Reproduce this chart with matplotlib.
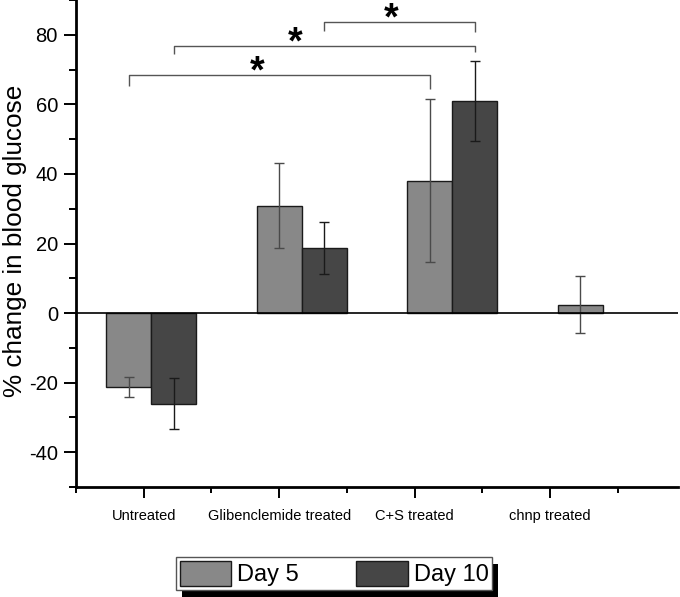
import matplotlib
matplotlib.use("Agg")
import matplotlib.pyplot as plt
from matplotlib.patches import Rectangle
import numpy as np

plt.rcParams["font.family"] = ["Liberation Sans", "DejaVu Sans"]
plt.rcParams["axes.unicode_minus"] = False

# data
groups = ["Untreated", "Glibenclemide treated", "C+S treated", "chnp treated"]
day5 = [-21.2, 30.8, 38.0, 2.4]
day5_err = [2.9, 12.2, 23.4, 8.2]
day10 = [-26.0, 18.8, 61.0, np.nan]
day10_err = [7.2, 7.5, 11.4, np.nan]

# significance brackets: (x left, x right, y top, left leg end, right leg end)
brackets = [
    (0.85, 2.85, 68.4, 65.4, 64.4),
    (1.15, 3.15, 76.8, 74.5, 75.0),
    (2.15, 3.15, 83.6, 81.2, 80.8),
]
star_x = [1.706, 1.955, 2.594]

pos = np.arange(1, len(groups) + 1)
w = 0.3
c5 = "#888888"
c10 = "#464646"

fig = plt.figure(figsize=(6.8, 5.97), dpi=100)
ax = fig.add_axes([76 / 680, 110 / 597, 602 / 680, 487 / 597])

ax.bar(pos - w / 2, day5, w, color=c5, edgecolor="#1a1a1a", linewidth=1.0, zorder=2)
ax.bar(pos + w / 2, day10, w, color=c10, edgecolor="#1a1a1a", linewidth=1.0, zorder=2)
ax.errorbar(pos - w / 2, day5, yerr=day5_err, fmt="none", ecolor="#4a4a4a",
            elinewidth=1.0, capsize=3.3, capthick=1.0, zorder=3)
ax.errorbar(pos + w / 2, day10, yerr=day10_err, fmt="none", ecolor="#1a1a1a",
            elinewidth=1.0, capsize=3.3, capthick=1.0, zorder=3)

ax.axhline(0, color="black", lw=1.2, zorder=4)

for (xl, xr, yt, yl, yr), sx in zip(brackets, star_x):
    ax.plot([xl, xl, xr, xr], [yl, yt, yt, yr], color="#555555", lw=1.0,
            solid_capstyle="butt", clip_on=False)
    ax.text(sx, yt - 2.2, "*", ha="center", va="baseline", fontsize=27,
            fontweight="bold", color="black")

ax.set_xlim(0.5, 4.5)
ax.set_ylim(-50, 90)

# x ticks sit on their own grid (not under the bars), as in the original
ax.set_xticks([0.95, 1.85, 2.75, 3.65])
ax.set_xticklabels(groups, fontsize=10.5)
ax.set_xticks([0.5, 1.4, 2.3, 3.2, 4.1], minor=True)
ax.set_yticks([-40, -20, 0, 20, 40, 60, 80])
ax.set_yticks(np.arange(-50, 91, 10), minor=True)
ax.tick_params(axis="y", which="major", length=9, width=1.4, labelsize=14.5, pad=4)
ax.tick_params(axis="y", which="minor", length=5, width=1.4)
ax.tick_params(axis="x", which="major", length=8, width=1.4, pad=8)
ax.tick_params(axis="x", which="minor", length=4, width=1.4)

for s in ["top", "right"]:
    ax.spines[s].set_visible(False)
for s in ["left", "bottom"]:
    ax.spines[s].set_linewidth(2.0)

ax.set_ylabel("% change in blood glucose", fontsize=18.8)
ax.yaxis.set_label_coords(-49 / 602, 0.505)

h5 = Rectangle((0, 0), 1, 1, facecolor=c5, edgecolor="#1a1a1a", lw=1.0)
h10 = Rectangle((0, 0), 1, 1, facecolor=c10, edgecolor="#1a1a1a", lw=1.0)
leg = fig.legend([h5, h10], ["Day 5", "Day 10"], ncol=2, loc="upper left",
                 bbox_to_anchor=(176 / 680, 1 - 557 / 597), fontsize=17,
                 frameon=True, fancybox=False, edgecolor="#555555", framealpha=1,
                 handlelength=2.2, handleheight=1.25, handletextpad=0.25,
                 columnspacing=2.4, borderpad=0.15, borderaxespad=0)
leg.get_frame().set_linewidth(1.0)

# solid black drop shadow offset right/down
fig.canvas.draw()
bb = leg.get_window_extent().transformed(fig.transFigure.inverted())
shadow = Rectangle((bb.x0 + 6 / 680, bb.y0 - 7 / 597), bb.width, bb.height,
                   transform=fig.transFigure, facecolor="black", edgecolor="none",
                   zorder=leg.get_zorder() - 1)
fig.patches.append(shadow)

fig.savefig("out.png", dpi=100)
